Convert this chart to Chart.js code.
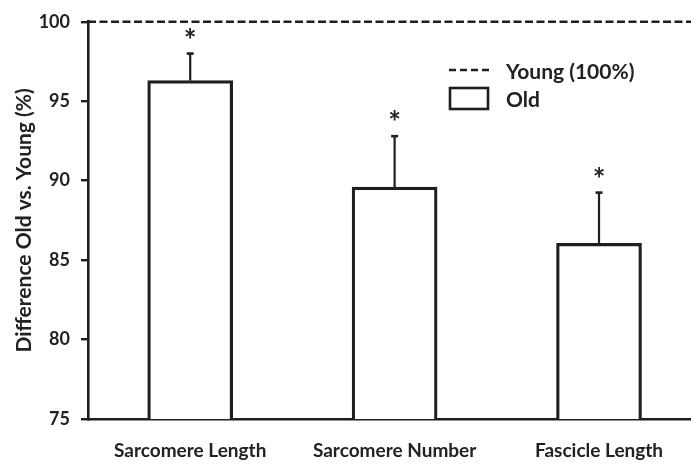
<!DOCTYPE html>
<html>
<head>
<meta charset="utf-8">
<script src="https://cdn.jsdelivr.net/npm/chart.js@4.4.1/dist/chart.umd.min.js"></script>
<style>
  html, body { margin: 0; padding: 0; background: #fff; }
  #wrap { width: 691px; height: 466px; }
</style>
</head>
<body>
<div id="wrap"><canvas id="chart" width="691" height="466"></canvas></div>
<script>
'use strict';

const categories = ['Sarcomere Length', 'Sarcomere Number', 'Fascicle Length'];
const oldMeans = [96.3, 89.6, 86.05];
const oldSD = [1.7, 3.2, 3.2];
const significant = [true, true, true];
const youngLevel = 100;
const yTicks = [75, 80, 85, 90, 95, 100];

const INK = '#1f1f1f';
const TEXT = '#222222';
const FONT = 'Lato, "Open Sans", sans-serif';

// error bars (upper only) and significance stars
const errorBarPlugin = {
    id: 'errorBars',
    afterDatasetsDraw(chart) {
        const ctx = chart.ctx;
        const yScale = chart.scales.y;
        const meta = chart.getDatasetMeta(1);
        ctx.save();
        ctx.strokeStyle = INK;
        ctx.fillStyle = TEXT;
        meta.data.forEach((bar, i) => {
            const top = yScale.getPixelForValue(oldMeans[i] + oldSD[i]);
            ctx.lineWidth = 2.2;
            ctx.beginPath();
            ctx.moveTo(bar.x, bar.y);
            ctx.lineTo(bar.x, top);
            ctx.stroke();
            ctx.lineWidth = 2.6;
            ctx.beginPath();
            ctx.moveTo(bar.x - 3.5, top);
            ctx.lineTo(bar.x + 3.5, top);
            ctx.stroke();
            if (significant[i]) {
                ctx.font = 'bold 30px ' + FONT;
                ctx.textAlign = 'center';
                ctx.textBaseline = 'alphabetic';
                ctx.fillText('*', bar.x, top - 3);
            }
        });
        ctx.restore();
    }
};

// legend in the upper right of the plot
const legendPlugin = {
    id: 'boxLegend',
    afterDraw(chart) {
        const ctx = chart.ctx;
        const sets = chart.data.datasets;
        const x = 449;
        ctx.save();
        ctx.strokeStyle = INK;
        ctx.lineWidth = 2.4;
        ctx.setLineDash([7, 4]);
        ctx.beginPath();
        ctx.moveTo(x, 70);
        ctx.lineTo(x + 40, 70);
        ctx.stroke();
        ctx.setLineDash([]);
        ctx.lineWidth = 2.6;
        ctx.strokeRect(x + 1, 88, 38, 21);
        ctx.fillStyle = TEXT;
        ctx.font = 'bold 21px ' + FONT;
        ctx.textAlign = 'left';
        ctx.textBaseline = 'middle';
        ctx.fillText(sets[0].label, 506, 72);
        ctx.fillText(sets[1].label, 506, 100);
        ctx.restore();
    }
};

const xMax = 2.95;

new Chart(document.getElementById('chart'), {
    type: 'bar',
    data: {
        datasets: [{
            type: 'line',
            label: 'Young (100%)',
            data: [{ x: 0, y: youngLevel }, { x: xMax, y: youngLevel }],
            borderColor: INK,
            borderWidth: 2.6,
            borderDash: [8, 3.5],
            pointRadius: 0,
            clip: false,
            fill: false
        }, {
            label: 'Old',
            data: oldMeans.map((v, i) => ({ x: i + 0.5, y: v })),
            backgroundColor: '#ffffff',
            borderColor: INK,
            borderWidth: 3.2,
            barThickness: 85
        }]
    },
    options: {
        responsive: false,
        animation: false,
        layout: { padding: { top: 14, left: 0, right: 0, bottom: 0 } },
        plugins: {
            legend: { display: false },
            tooltip: { enabled: false }
        },
        scales: {
            x: {
                type: 'linear',
                min: 0,
                max: xMax,
                offset: false,
                afterFit(scale) { scale.height = 47; },
                afterBuildTicks(scale) {
                    scale.ticks = categories.map((c, i) => ({ value: i + 0.5 }));
                },
                grid: { display: false, drawTicks: false },
                border: { display: true, color: INK, width: 2.6 },
                ticks: {
                    padding: 20,
                    color: TEXT,
                    font: { family: FONT, size: 19, weight: 'bold' },
                    maxRotation: 0,
                    callback: (value) => categories[Math.floor(value)]
                }
            },
            y: {
                min: 75,
                max: 100,
                afterFit(scale) { scale.width = 88; },
                afterBuildTicks(scale) {
                    scale.ticks = yTicks.map(v => ({ value: v }));
                },
                grid: {
                    drawOnChartArea: false,
                    drawTicks: true,
                    tickLength: 7,
                    color: INK,
                    lineWidth: 2.4
                },
                border: { display: true, color: INK, width: 2.6 },
                ticks: {
                    padding: 11,
                    color: TEXT,
                    font: { family: FONT, size: 18, weight: 'bold' }
                },
                title: {
                    display: true,
                    text: 'Difference Old vs. Young (%)',
                    color: TEXT,
                    font: { family: FONT, size: 21, weight: 'bold' },
                    padding: { top: 12, bottom: 0 }
                }
            }
        }
    },
    plugins: [errorBarPlugin, legendPlugin]
});
</script>
</body>
</html>
